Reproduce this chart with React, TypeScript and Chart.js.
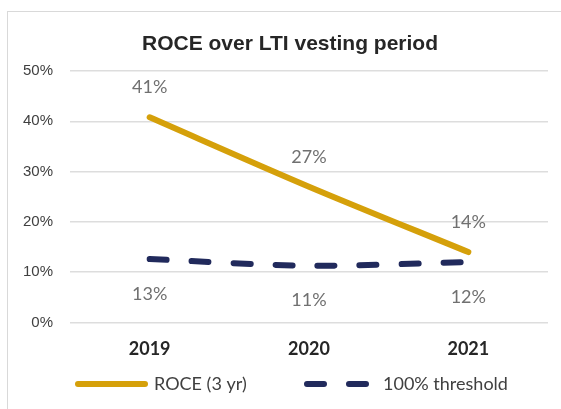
import React, { useEffect, useRef } from 'react';
import { Chart, registerables } from 'chart.js';

Chart.register(...registerables);

const chartTitle = 'ROCE over LTI vesting period';
const categories = ['2019', '2020', '2021'];
const seriesNames = ['ROCE (3 yr)', '100% threshold'];
const roceValues = [40.8, 27.0, 14.0];
const thresholdValues = [12.6, 11.3, 12.0];
const yTicks = [0, 10, 20, 30, 40, 50];

const GOLD = '#D5A00A';
const NAVY = '#212A5C';
const DASH = [17, 25];

const dataLabelPlugin = {
  id: 'dataLabels',
  afterDatasetsDraw(chart: any) {
    const ctx = chart.ctx;
    ctx.save();
    ctx.font = '18px Lato';
    ctx.fillStyle = '#707070';
    ctx.textAlign = 'center';
    ctx.textBaseline = 'middle';
    chart.data.datasets.forEach((ds: any, i: number) => {
      const meta = chart.getDatasetMeta(i);
      const off = i === 0 ? -30 : 35;
      meta.data.forEach((pt: any, j: number) => {
        ctx.fillText(Math.round(ds.data[j]) + '%', pt.x, pt.y + off);
      });
    });
    ctx.restore();
  },
};

const legendPlugin = {
  id: 'customLegend',
  afterDraw(chart: any) {
    const ctx = chart.ctx;
    const y = 372;
    const ds = chart.data.datasets;
    ctx.save();
    ctx.lineCap = 'round';
    ctx.lineWidth = 6;
    ctx.strokeStyle = ds[0].borderColor;
    ctx.setLineDash([]);
    ctx.beginPath();
    ctx.moveTo(70, y);
    ctx.lineTo(137, y);
    ctx.stroke();
    ctx.strokeStyle = ds[1].borderColor;
    ctx.setLineDash(ds[1].borderDash);
    ctx.beginPath();
    ctx.moveTo(299, y);
    ctx.lineTo(358, y);
    ctx.stroke();
    ctx.setLineDash([]);
    ctx.font = '18px Lato';
    ctx.fillStyle = '#404040';
    ctx.textAlign = 'left';
    ctx.textBaseline = 'middle';
    ctx.fillText(ds[0].label, 146, y);
    ctx.fillText(ds[1].label, 375, y);
    ctx.restore();
  },
};

function ChartView() {
  const ref = useRef<HTMLCanvasElement | null>(null);
  useEffect(() => {
    if (!ref.current) return;
    const chart = new Chart(ref.current, {
      type: 'line',
      data: {
        labels: categories,
        datasets: [
          {
            label: seriesNames[0],
            data: roceValues,
            borderColor: GOLD,
            backgroundColor: GOLD,
            borderWidth: 6,
            borderCapStyle: 'round',
            borderJoinStyle: 'round',
            pointRadius: 0,
            tension: 0.3,
            yAxisID: 'y',
          },
          {
            label: seriesNames[1],
            data: thresholdValues,
            borderColor: NAVY,
            backgroundColor: NAVY,
            borderWidth: 6,
            borderDash: DASH,
            borderCapStyle: 'round',
            borderJoinStyle: 'round',
            pointRadius: 0,
            tension: 0.3,
            yAxisID: 'y',
          },
        ],
      },
      options: {
        responsive: false,
        animation: false,
        layout: { padding: { left: 12, right: 8, top: 0, bottom: 49.5 } },
        plugins: {
          legend: { display: false },
          tooltip: { enabled: false },
          title: {
            display: true,
            text: chartTitle,
            color: '#262626',
            font: { family: 'Liberation Sans', size: 21, weight: 'bold' },
            padding: { top: 19.2, bottom: 14.6 },
          },
        },
        scales: {
          x: {
            offset: true,
            grid: { display: false, drawTicks: false },
            border: { display: false },
            ticks: {
              color: '#262626',
              padding: 16,
              font: { family: 'Lato', size: 18, weight: 'bold' },
            },
            afterFit: (s: any) => {
              s.height = 40;
            },
          },
          y: {
            min: yTicks[0],
            max: yTicks[yTicks.length - 1],
            grid: { color: '#DDDDDD', lineWidth: 1.5, drawTicks: false },
            border: { display: false },
            ticks: {
              stepSize: yTicks[1] - yTicks[0],
              color: '#404040',
              padding: 17,
              font: { family: 'Liberation Sans', size: 15 },
              callback: (v: any) => v + '%',
            },
            afterFit: (s: any) => {
              s.width = 50;
            },
          },
          yRight: {
            position: 'right',
            display: true,
            min: yTicks[0],
            max: yTicks[yTicks.length - 1],
            grid: { display: false, drawTicks: false },
            border: { display: false },
            ticks: { display: false },
            afterFit: (s: any) => {
              s.width = 12;
            },
          },
        },
      },
      plugins: [dataLabelPlugin, legendPlugin],
    } as any);
    return () => chart.destroy();
  }, []);
  return <canvas ref={ref} width={560} height={400} style={{ display: 'block' }} />;
}

export default function App() {
  return (
    <div style={{ position: 'absolute', left: 0, top: 0, width: 561, height: 409, overflow: 'hidden', background: '#fff' }}>
      <div
        style={{
          position: 'absolute',
          left: 7,
          top: 11,
          width: 560,
          height: 400,
          border: '1px solid #D9D9D9',
          background: '#fff',
        }}
      >
        <ChartView />
      </div>
    </div>
  );
}
